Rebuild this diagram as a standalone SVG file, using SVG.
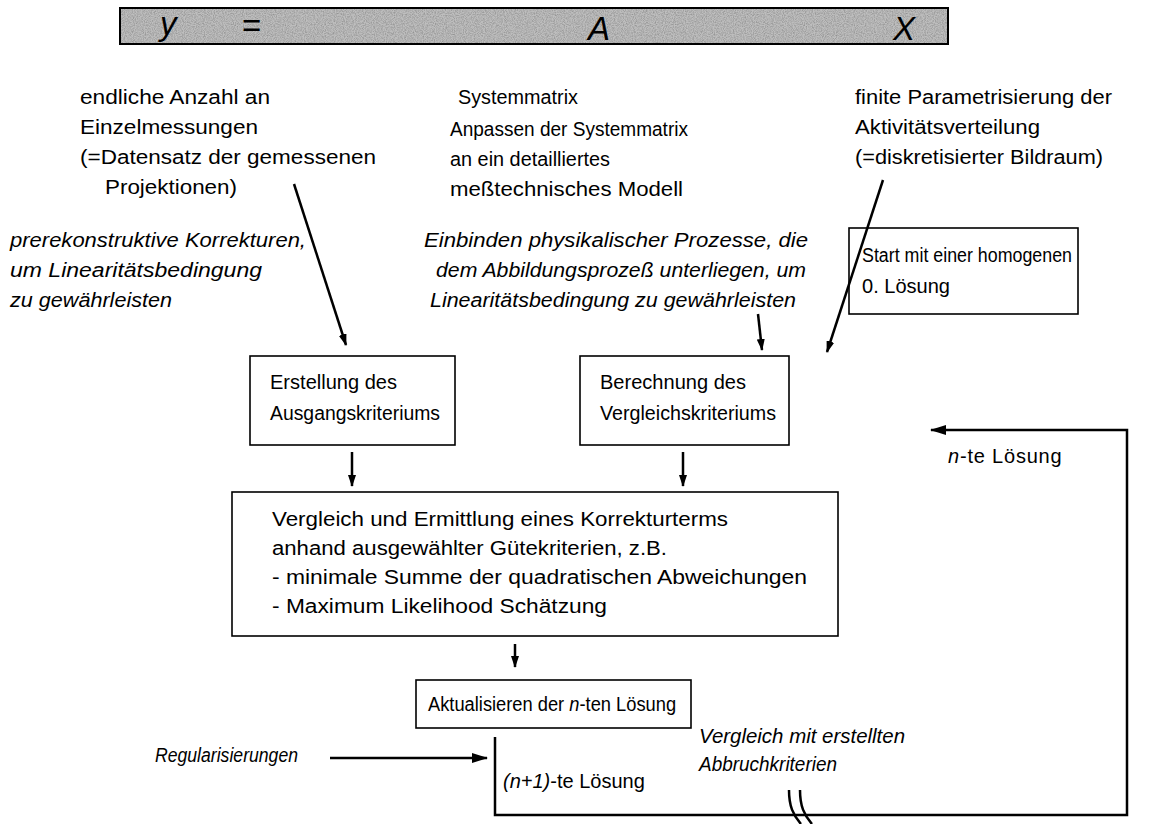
<svg xmlns="http://www.w3.org/2000/svg" width="1169" height="824" viewBox="0 0 1169 824">
<style>
.t{font-family:"Liberation Sans",Arial,sans-serif;font-size:20px;fill:#000}
.i{font-style:italic}
.box{fill:#fff;stroke:#000;stroke-width:1.6}
.ln{fill:none;stroke:#000;stroke-width:2.5}
.big{font-family:"Liberation Sans",Arial,sans-serif;font-size:33px;fill:#000}
</style>
<defs>
<marker id="ah" viewBox="0 0 12 8" refX="11" refY="4" markerWidth="12" markerHeight="8" markerUnits="userSpaceOnUse" orient="auto">
<path d="M0,0 L12,4 L0,8 z" fill="#000"/>
</marker>
<marker id="ahL" viewBox="0 0 16 10" refX="15" refY="5" markerWidth="16" markerHeight="10" markerUnits="userSpaceOnUse" orient="auto">
<path d="M0,0 L16,5 L0,10 z" fill="#000"/>
</marker>
<filter id="noise" x="0" y="0" width="100%" height="100%">
<feTurbulence type="fractalNoise" baseFrequency="0.9" numOctaves="2" seed="4"/>
<feColorMatrix type="matrix" values="0 0 0 0 0.3  0 0 0 0 0.3  0 0 0 0 0.3  2 0 0 0 -0.7"/>
<feComposite in2="SourceGraphic" operator="in"/>
</filter>
</defs>

<g id="equation">
<rect x="120" y="8" width="828" height="36" fill="#bebebe"/>
<rect x="120" y="8" width="828" height="36" fill="#888" filter="url(#noise)"/>
<rect x="120" y="8" width="828" height="36" fill="none" stroke="#000" stroke-width="2"/>
<text class="big i" x="160" y="35">y</text>
<text class="big" x="242" y="37" font-size="26">=</text>
<text class="big i" x="588" y="40">A</text>
<text class="big i" x="893" y="40">X</text>
</g>

<g id="measurements">
<text class="t" x="80" y="104" textLength="190" lengthAdjust="spacingAndGlyphs">endliche Anzahl an</text>
<text class="t" x="80" y="134" textLength="178" lengthAdjust="spacingAndGlyphs">Einzelmessungen</text>
<text class="t" x="80" y="164" textLength="296" lengthAdjust="spacingAndGlyphs">(=Datensatz der gemessenen</text>
<text class="t" x="105" y="194" textLength="132" lengthAdjust="spacingAndGlyphs">Projektionen)</text>
</g>

<g id="systemmatrix">
<text class="t" x="458" y="104" textLength="120" lengthAdjust="spacingAndGlyphs">Systemmatrix</text>
<text class="t" x="450" y="136" textLength="238" lengthAdjust="spacingAndGlyphs">Anpassen der Systemmatrix</text>
<text class="t" x="450" y="166" textLength="160" lengthAdjust="spacingAndGlyphs">an ein detailliertes</text>
<text class="t" x="450" y="196" textLength="233" lengthAdjust="spacingAndGlyphs">meßtechnisches Modell</text>
</g>

<g id="parametrisierung">
<text class="t" x="855" y="104" textLength="257" lengthAdjust="spacingAndGlyphs">finite Parametrisierung der</text>
<text class="t" x="855" y="134" textLength="185" lengthAdjust="spacingAndGlyphs">Aktivitätsverteilung</text>
<text class="t" x="855" y="164" textLength="248" lengthAdjust="spacingAndGlyphs">(=diskretisierter Bildraum)</text>
</g>

<g id="korrekturen">
<text class="t i" x="10" y="247" textLength="296" lengthAdjust="spacingAndGlyphs">prerekonstruktive Korrekturen,</text>
<text class="t i" x="10" y="277" textLength="252" lengthAdjust="spacingAndGlyphs">um Linearitätsbedingung</text>
<text class="t i" x="10" y="307" textLength="162" lengthAdjust="spacingAndGlyphs">zu gewährleisten</text>
</g>

<g id="prozesse">
<text class="t i" x="424" y="247" textLength="384" lengthAdjust="spacingAndGlyphs">Einbinden physikalischer Prozesse, die</text>
<text class="t i" x="436" y="277" textLength="370" lengthAdjust="spacingAndGlyphs">dem Abbildungsprozeß unterliegen, um</text>
<text class="t i" x="430" y="307" textLength="366" lengthAdjust="spacingAndGlyphs">Linearitätsbedingung zu gewährleisten</text>
</g>

<g id="start">
<rect class="box" x="849" y="228" width="229" height="86"/>
<text class="t" x="862" y="262" textLength="210" lengthAdjust="spacingAndGlyphs">Start mit einer homogenen</text>
<text class="t" x="862" y="293" textLength="88" lengthAdjust="spacingAndGlyphs">0. Lösung</text>
</g>

<g id="erstellung">
<rect class="box" x="250" y="356" width="205" height="89"/>
<text class="t" x="270" y="389" textLength="127" lengthAdjust="spacingAndGlyphs">Erstellung des</text>
<text class="t" x="270" y="420" textLength="170" lengthAdjust="spacingAndGlyphs">Ausgangskriteriums</text>
</g>

<g id="berechnung">
<rect class="box" x="580" y="356" width="209" height="89"/>
<text class="t" x="600" y="389" textLength="146" lengthAdjust="spacingAndGlyphs">Berechnung des</text>
<text class="t" x="600" y="420" textLength="176" lengthAdjust="spacingAndGlyphs">Vergleichskriteriums</text>
</g>

<g id="vergleich">
<rect class="box" x="232" y="492" width="606" height="144"/>
<text class="t" x="272" y="526" textLength="456" lengthAdjust="spacingAndGlyphs">Vergleich und Ermittlung eines Korrekturterms</text>
<text class="t" x="272" y="555" textLength="395" lengthAdjust="spacingAndGlyphs">anhand ausgewählter Gütekriterien, z.B.</text>
<text class="t" x="272" y="584" textLength="535" lengthAdjust="spacingAndGlyphs">- minimale Summe der quadratischen Abweichungen</text>
<text class="t" x="272" y="613" textLength="335" lengthAdjust="spacingAndGlyphs">- Maximum Likelihood Schätzung</text>
</g>

<g id="aktualisieren">
<rect class="box" x="416" y="680" width="275" height="48"/>
<text class="t" transform="translate(428,711) scale(0.915,1)" font-size="18.5">Aktualisieren der <tspan class="i">n</tspan>-ten Lösung</text>
</g>

<g id="labels">
<text class="t" x="948" y="463" letter-spacing="0.8"><tspan class="i">n</tspan>-te  Lösung</text>
<text class="t i" x="155" y="762" textLength="143" lengthAdjust="spacingAndGlyphs">Regularisierungen</text>
<text class="t" x="503" y="788" font-size="19.5"><tspan class="i">(n+1)</tspan>-te  Lösung</text>
<text class="t i" x="699" y="743" textLength="206" lengthAdjust="spacingAndGlyphs">Vergleich mit erstellten</text>
<text class="t i" x="699" y="771" textLength="138" lengthAdjust="spacingAndGlyphs">Abbruchkriterien</text>
</g>

<g id="connectors">
<line class="ln" x1="294" y1="184" x2="346" y2="345" marker-end="url(#ah)"/>
<line class="ln" x1="883" y1="180" x2="827" y2="352" marker-end="url(#ah)"/>
<line class="ln" x1="758" y1="314" x2="762" y2="350" marker-end="url(#ah)"/>
<line class="ln" x1="352" y1="452" x2="352" y2="486" marker-end="url(#ah)"/>
<line class="ln" x1="683" y1="452" x2="683" y2="486" marker-end="url(#ah)"/>
<line class="ln" x1="515" y1="644" x2="515" y2="667" marker-end="url(#ah)"/>
<line class="ln" x1="330" y1="758" x2="487" y2="758" stroke-width="3" marker-end="url(#ahL)"/>
<path class="ln" d="M495,737 V815 H1127 V430 H931" stroke-width="3" marker-end="url(#ahL)"/>
<path class="ln" d="M789,790 C789,806 793,815 801,824" stroke-width="2"/>
<path class="ln" d="M800,790 C800,806 804,815 812,824" stroke-width="2"/>
</g>
</svg>
